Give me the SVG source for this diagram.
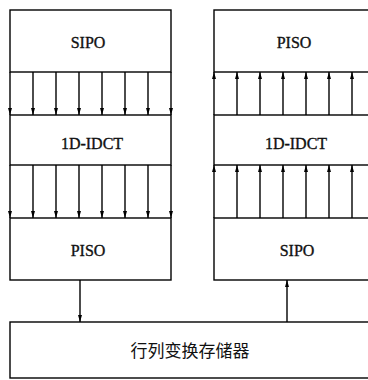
<svg xmlns="http://www.w3.org/2000/svg" width="368" height="380" viewBox="0 0 368 380">
<style>
.box{fill:#fff;stroke:#000;stroke-width:1.4}
.lbl{font-family:"Liberation Serif","Times New Roman",serif;font-size:16px;fill:#111;stroke:#111;stroke-width:0.35;text-anchor:middle}
.cjk{font-family:"Liberation Serif","Noto Sans CJK SC",serif;font-size:17px;fill:#111;text-anchor:middle}
.ln{stroke:#000;stroke-width:1.4;fill:none}
</style>
<defs>
<marker id="ah" markerUnits="userSpaceOnUse" markerWidth="7" markerHeight="4" refX="7" refY="2" orient="auto">
<path d="M0,0 L7,2 L0,4 z" fill="#000"/>
</marker>
</defs>
<rect width="368" height="380" fill="#fff"/>
<g id="sipo-left"><rect class="box" x="10" y="10" width="161" height="62"/><text class="lbl" x="88" y="48">SIPO</text></g>
<g id="idct-left"><rect class="box" x="10" y="115" width="161" height="50"/><text class="lbl" x="92" y="149">1D-IDCT</text></g>
<g id="piso-left"><rect class="box" x="10" y="218" width="161" height="62"/><text class="lbl" x="88" y="256">PISO</text></g>
<g id="piso-right"><rect class="box" x="214" y="10" width="161" height="62"/><text class="lbl" x="294" y="48">PISO</text></g>
<g id="idct-right"><rect class="box" x="214" y="115" width="161" height="50"/><text class="lbl" x="296" y="149">1D-IDCT</text></g>
<g id="sipo-right"><rect class="box" x="214" y="218" width="161" height="62"/><text class="lbl" x="297" y="256">SIPO</text></g>
<g id="memory"><rect class="box" x="10" y="322" width="380" height="56"/><text class="cjk" x="190" y="357">行列变换存储器</text></g>
<g id="connectors" class="ln" marker-end="url(#ah)">
<line x1="10" y1="72" x2="10" y2="115"/><line x1="33" y1="72" x2="33" y2="115"/><line x1="56" y1="72" x2="56" y2="115"/><line x1="79" y1="72" x2="79" y2="115"/><line x1="102" y1="72" x2="102" y2="115"/><line x1="125" y1="72" x2="125" y2="115"/><line x1="148" y1="72" x2="148" y2="115"/><line x1="171" y1="72" x2="171" y2="115"/>
<line x1="10" y1="165" x2="10" y2="218"/><line x1="33" y1="165" x2="33" y2="218"/><line x1="56" y1="165" x2="56" y2="218"/><line x1="79" y1="165" x2="79" y2="218"/><line x1="102" y1="165" x2="102" y2="218"/><line x1="125" y1="165" x2="125" y2="218"/><line x1="148" y1="165" x2="148" y2="218"/><line x1="171" y1="165" x2="171" y2="218"/>
<line x1="214" y1="115" x2="214" y2="72"/><line x1="237" y1="115" x2="237" y2="72"/><line x1="260" y1="115" x2="260" y2="72"/><line x1="283" y1="115" x2="283" y2="72"/><line x1="306" y1="115" x2="306" y2="72"/><line x1="329" y1="115" x2="329" y2="72"/><line x1="352" y1="115" x2="352" y2="72"/><line x1="375" y1="115" x2="375" y2="72"/>
<line x1="214" y1="218" x2="214" y2="165"/><line x1="237" y1="218" x2="237" y2="165"/><line x1="260" y1="218" x2="260" y2="165"/><line x1="283" y1="218" x2="283" y2="165"/><line x1="306" y1="218" x2="306" y2="165"/><line x1="329" y1="218" x2="329" y2="165"/><line x1="352" y1="218" x2="352" y2="165"/><line x1="375" y1="218" x2="375" y2="165"/>
<line x1="80" y1="280" x2="80" y2="322"/>
<line x1="287" y1="322" x2="287" y2="280"/>
</g>
</svg>
